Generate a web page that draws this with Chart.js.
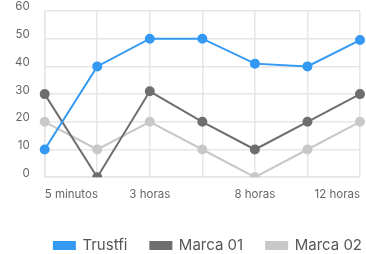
<!DOCTYPE html>
<html>
<head>
<meta charset="utf-8">
<script src="https://cdn.jsdelivr.net/npm/chart.js@4"></script>
<style>
  html, body { margin: 0; padding: 0; background: #fff; }
  #wrap { width: 366px; height: 254px; }
</style>
</head>
<body>
<div id="wrap"><canvas id="grafico"></canvas></div>
<script>
const categorias = ['5 minutos', '1 hora', '3 horas', '5 horas', '8 horas', '10 horas', '12 horas'];
const trustfi = [10, 40, 50, 50, 41, 40, 49.5];
const marca01 = [30, 0, 31, 20, 10, 20, 30];
const marca02 = [20, 10, 20, 10, 0, 10, 20];
const ticksY = [0, 10, 20, 30, 40, 50, 60];

const grafico = document.getElementById('grafico');

function serie(label, data, color) {
    return {
        label: label,
        data: data,
        borderColor: color,
        backgroundColor: color,
        pointBackgroundColor: color,
        pointBorderColor: color,
        pointRadius: 4,
        pointHoverRadius: 4,
        borderWidth: 2,
        fill: false,
        tension: 0
    };
}

// la leyenda queda pegada al borde derecho (sin el padding final)
const leyendaDerecha = {
    id: 'leyendaDerecha',
    afterLayout(chart) {
        chart.legend.right += chart.legend.options.labels.padding;
    }
};

new Chart(grafico, {
    type: 'line',
    data: {
        labels: categorias,
        datasets: [
            serie('Trustfi', trustfi, '#3399f3'),
            serie('Marca 01', marca01, '#6e6e6e'),
            serie('Marca 02', marca02, '#c8c8c8')
        ]
    },
    plugins: [leyendaDerecha],
    options: {
        responsive: true,
        maintainAspectRatio: false,
        animation: false,
        layout: { padding: { left: 0, right: 4, top: 11, bottom: -9 } },
        plugins: {
            tooltip: { enabled: false },
            legend: {
                position: 'bottom',
                align: 'end',
                labels: {
                    boxWidth: 21,
                    boxHeight: 7,
                    padding: 23,
                    color: '#555',
                    font: { family: 'Inter', size: 15 }
                }
            }
        },
        scales: {
            x: {
                afterFit: function (eje) { eje.paddingRight = 0; eje.height += 4; },
                grid: { color: '#e6e6e6', lineWidth: 1.5, drawTicks: false },
                border: { color: '#e6e6e6', width: 1.5 },
                ticks: {
                    autoSkip: false,
                    maxRotation: 0,
                    align: 'inner',
                    padding: 10,
                    color: '#666',
                    font: { family: 'Inter', size: 11.5 },
                    callback: function (v, i) { return i % 2 === 0 ? categorias[i] : ''; }
                }
            },
            y: {
                min: 0,
                max: 60,
                afterBuildTicks: function (eje) { eje.ticks = ticksY.map(v => ({ value: v })); },
                afterFit: function (eje) { eje.paddingTop = 0; eje.paddingBottom = 0; },
                grid: { color: '#e6e6e6', lineWidth: 1.5, drawTicks: false },
                border: { color: '#e6e6e6', width: 1.5 },
                ticks: {
                    padding: 15,
                    labelOffset: -4,
                    color: '#666',
                    font: { family: 'Inter', size: 11.5 }
                }
            }
        }
    }
});
</script>
</body>
</html>
